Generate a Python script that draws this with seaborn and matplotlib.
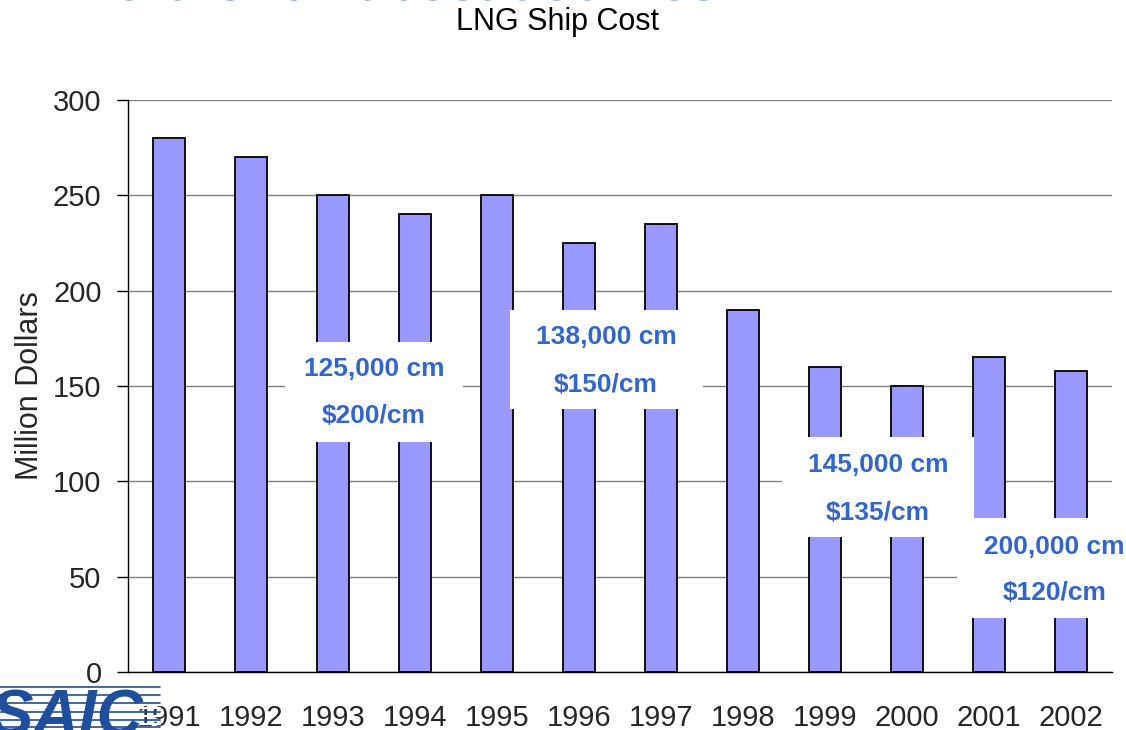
import matplotlib
matplotlib.use("Agg")
import matplotlib.pyplot as plt
from matplotlib.patches import Rectangle
from matplotlib.lines import Line2D
import seaborn as sns
import pandas as pd

# -------------------------------
# Data
years = ["1991", "1992", "1993", "1994", "1995", "1996",
         "1997", "1998", "1999", "2000", "2001", "2002"]
cost_musd = [280, 270, 250, 240, 250, 225, 235, 190, 160, 150, 165, 158]

# callout labels: ship size and unit cost
callout_size = ["125,000 cm", "138,000 cm", "145,000 cm", "200,000 cm"]
callout_unit = ["$200/cm", "$150/cm", "$135/cm", "$120/cm"]

df = pd.DataFrame({"year": years, "cost": cost_musd})

# -------------------------------
sns.set_style("white")
plt.rcParams["font.family"] = ["Liberation Sans", "DejaVu Sans"]

fig = plt.figure(figsize=(11.26, 7.3), dpi=100)
ax = fig.add_axes([128 / 1126, 58 / 730, 984 / 1126, 572 / 730])

sns.barplot(data=df, x="year", y="cost", color="#9999FF", saturation=1,
            edgecolor="black", linewidth=1.3, width=0.39, ax=ax, zorder=2)

ax.set_xlim(-0.5, len(years) - 0.5)
ax.set_ylim(0, 300)
ax.set_yticks(range(0, 301, 50))
ax.yaxis.grid(True, color="#808080", linewidth=1.0, zorder=0)
ax.set_axisbelow(True)

for side in ["top", "right"]:
    ax.spines[side].set_visible(False)
ax.spines["left"].set_color("black")
ax.spines["bottom"].set_color("black")
ax.spines["left"].set_linewidth(1.0)
ax.spines["bottom"].set_linewidth(1.0)

# x ticks sit between the categories
ax.set_xticks([i - 0.5 for i in range(len(years) + 1)], minor=True)
ax.tick_params(axis="x", which="minor", length=8, width=1, color="black", direction="out")
ax.tick_params(axis="x", which="major", length=0, pad=23, labelsize=21)
ax.tick_params(axis="y", length=8, width=1, color="black", direction="out",
               pad=11, labelsize=21, left=True)

ax.set_xlabel("")
ax.set_ylabel("Million Dollars", fontsize=22)
ax.yaxis.label.set_va("center")
ax.yaxis.set_label_coords(-0.0996, 0.5)

# -------------------------------
# White callout boxes with blue labels (data coords)
boxes = [
    (1.415, 120.6, 2.17, 52.5),
    (4.159, 137.9, 2.353, 52.0),
    (7.476, 70.8, 2.341, 52.5),
    (9.61, 28.3, 2.10, 52.5),
]
text_pos = [
    (2.50, 158.9, 134.3),
    (5.33, 175.7, 150.5),
    (8.646, 108.6, 83.4),
    (10.80, 65.6, 41.4),
]
blue = "#3366CC"
for (bx, by, bw, bh), (tx, ty1, ty2), s1, s2 in zip(boxes, text_pos, callout_size, callout_unit):
    ax.add_patch(Rectangle((bx, by), bw, bh, facecolor="white", edgecolor="none",
                           zorder=4, clip_on=False))
    ax.text(tx, ty1, s1, ha="center", va="center", fontsize=19,
            fontweight="bold", color=blue, zorder=5)
    ax.text(tx, ty2, s2, ha="center", va="center", fontsize=19,
            fontweight="bold", color=blue, zorder=5)

# -------------------------------
# Titles
fig.text(558 / 1126, 1 - 22 / 730, "LNG Ship Cost", ha="center", va="center",
         fontsize=22, color="black")
# slide heading, mostly cut off by the top edge
fig.text(100 / 1126, 1.0, "further unit cost declines", ha="left",
         va="baseline", fontsize=41, color=blue)

# SAIC logo, bottom left (partly cut off)
logo = "#1F4E9C"
fig.text(-10 / 1126, -6 / 730, "SAIC", ha="left", va="baseline", fontsize=46,
         fontweight="bold", fontstyle="italic", color=logo)
for yy in [687, 695, 703, 712, 720, 727]:
    fig.add_artist(Line2D([0, 160 / 1126], [1 - yy / 730] * 2, color=logo, linewidth=1.2))
for yy in [691, 699, 707.5, 716, 723.5]:
    fig.add_artist(Line2D([0, 160 / 1126], [1 - yy / 730] * 2, color="white", linewidth=1.6))

plt.savefig("out.png", dpi=100)
